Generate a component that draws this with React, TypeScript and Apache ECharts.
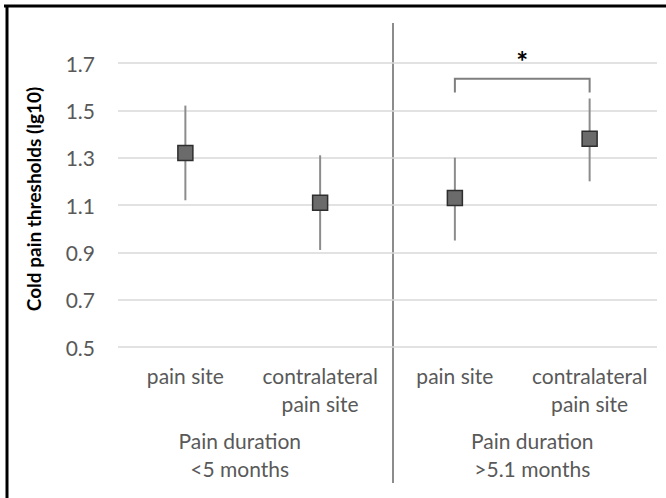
import React, { useEffect, useRef } from 'react';
import * as echarts from 'echarts';

const categories = ['pain site', 'contralateral\npain site', 'pain site', 'contralateral\npain site'];
const groups = ['Pain duration\n<5 months', 'Pain duration\n>5.1 months'];
const means = [1.32, 1.11, 1.13, 1.38];
const lower = [1.12, 0.91, 0.95, 1.2];
const upper = [1.52, 1.31, 1.3, 1.55];
const yTicks = [0.5, 0.7, 0.9, 1.1, 1.3, 1.5, 1.7];
const bracketFrom = 2;
const bracketTo = 3;
const bracketTop = 1.633;
const bracketLeg = 1.575;
const bracketLabel = '*';
const yTitle = 'Cold pain thresholds (lg10)';

const FONT = 'Lato, "Open Sans", sans-serif';

export default function App() {
  const ref = useRef<HTMLDivElement>(null);
  useEffect(() => {
    if (!ref.current) return;
    const chart = echarts.init(ref.current, undefined, { renderer: 'svg' });
    chart.setOption({
      animation: false,
      backgroundColor: '#ffffff',
      grid: { left: 118, right: 9, top: 63, bottom: 151, containLabel: false },
      xAxis: [
        {
          type: 'category',
          data: categories,
          boundaryGap: true,
          axisLine: { show: false },
          axisTick: { show: false },
          axisLabel: {
            interval: 0,
            color: '#595959',
            fontSize: 21,
            lineHeight: 28,
            margin: 14,
            fontFamily: FONT,
          },
        },
        {
          type: 'category',
          data: groups,
          position: 'bottom',
          boundaryGap: true,
          axisLine: { show: false },
          axisTick: { show: false },
          axisLabel: {
            interval: 0,
            margin: 79,
            formatter: (v: string, i: number) => (i === 0 ? `{l|${v}}` : `{r|${v}}`),
            rich: {
              l: { color: '#595959', fontSize: 21, lineHeight: 28, fontFamily: FONT, padding: [0, 26, 0, 0] },
              r: { color: '#595959', fontSize: 21, lineHeight: 28, fontFamily: FONT, padding: [0, 0, 0, 20] },
            },
          },
        },
      ],
      yAxis: {
        type: 'value',
        min: 0.5,
        max: 1.7,
        name: yTitle,
        nameLocation: 'middle',
        nameRotate: 90,
        nameGap: 75,
        nameTextStyle: {
          fontSize: 19,
          fontWeight: 'bold',
          color: '#000000',
          fontFamily: FONT,
          padding: [0, 0, 0, 12],
        },
        axisLine: { show: false },
        axisTick: { show: false, customValues: yTicks },
        axisLabel: {
          customValues: yTicks,
          color: '#595959',
          fontSize: 21,
          margin: 23,
          fontFamily: FONT,
          formatter: (v: number) => v.toFixed(1),
        },
        splitLine: { show: true, lineStyle: { color: '#d9d9d9', width: 1.5 } },
      },
      graphic: [
        { type: 'line', shape: { x1: 4, y1: 6, x2: 666, y2: 6 }, style: { stroke: '#000', lineWidth: 3 } },
        { type: 'line', shape: { x1: 7, y1: 5, x2: 7, y2: 498 }, style: { stroke: '#000', lineWidth: 3 } },
        { type: 'line', shape: { x1: 393, y1: 23, x2: 393, y2: 483 }, style: { stroke: '#8c8c8c', lineWidth: 2 } },
      ],
      series: [
        {
          type: 'custom',
          name: 'error',
          xAxisIndex: 0,
          data: categories.map((_, i) => [i, lower[i], upper[i]]),
          renderItem: (params: any, api: any) => {
            const lo = api.coord([api.value(0), api.value(1)]);
            const hi = api.coord([api.value(0), api.value(2)]);
            return {
              type: 'line',
              shape: { x1: lo[0], y1: lo[1], x2: hi[0], y2: hi[1] },
              style: { stroke: '#8c8c8c', lineWidth: 2 },
            };
          },
          z: 1,
        },
        {
          type: 'scatter',
          name: 'mean',
          xAxisIndex: 0,
          data: means,
          symbol: 'rect',
          symbolSize: 15,
          itemStyle: { color: '#6b6b6b', borderColor: '#2e2e2e', borderWidth: 1.5, opacity: 1 },
          z: 3,
        },
        {
          type: 'custom',
          name: 'bracket',
          xAxisIndex: 0,
          clip: false,
          data: [[bracketFrom, bracketTo, bracketTop, bracketLeg]],
          renderItem: (params: any, api: any) => {
            const a = api.coord([api.value(0), api.value(2)]);
            const b = api.coord([api.value(1), api.value(2)]);
            const la = api.coord([api.value(0), api.value(3)]);
            const lb = api.coord([api.value(1), api.value(3)]);
            return {
              type: 'group',
              children: [
                {
                  type: 'polyline',
                  shape: { points: [[la[0], la[1]], [a[0], a[1]], [b[0], b[1]], [lb[0], lb[1]]] },
                  style: { stroke: '#7f7f7f', lineWidth: 2, fill: 'none' },
                },
                {
                  type: 'text',
                  x: (a[0] + b[0]) / 2,
                  y: a[1] - 18,
                  style: {
                    text: bracketLabel,
                    fill: '#000',
                    font: `bold 28px ${FONT}`,
                    align: 'center',
                    verticalAlign: 'middle',
                  },
                },
              ],
            };
          },
          z: 2,
        },
      ],
    });
    return () => chart.dispose();
  }, []);
  return (
    <div
      ref={ref}
      style={{ position: 'absolute', left: 0, top: 0, width: 666, height: 498 }}
    />
  );
}
